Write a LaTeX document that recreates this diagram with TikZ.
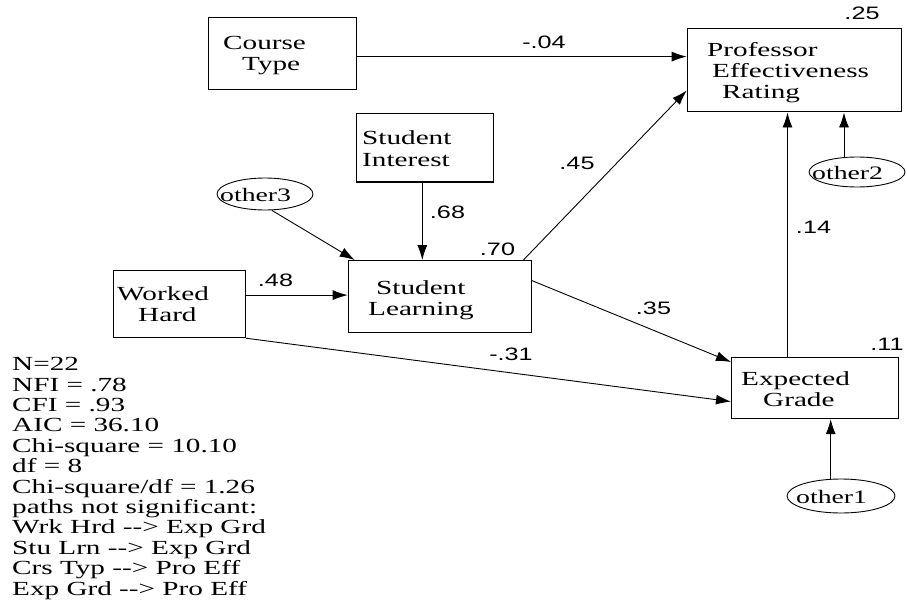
\documentclass[tikz,border=0pt]{standalone}
\usepackage{fontspec}
\setmainfont[FakeStretch=1.46]{Liberation Serif}
\newfontfamily\numfont[FakeStretch=1.4]{Liberation Sans}
\usetikzlibrary{arrows.meta,calc,shapes.geometric}
% stacked lines, baseline on the first line
\newcommand{\stacklines}[1]{\begin{tabular}[t]{@{}l@{}}#1\end{tabular}}

\begin{document}
\begin{tikzpicture}[x=1pt,y=-1pt,
  varbox/.style={draw, line width=1.2pt, rectangle, inner sep=0pt, anchor=north west},
  errnode/.style={draw, line width=0.9pt, ellipse, inner sep=0pt},
  boxtext/.style={anchor=base west, inner sep=0pt, font=\fontsize{20}{21}\selectfont},
  errtext/.style={anchor=base west, inner sep=0pt, font=\fontsize{19}{20}\selectfont},
  coef/.style={anchor=base, inner sep=0pt, font=\numfont\fontsize{18}{20}\selectfont},
  pathline/.style={line width=0.9pt, -{Latex[length=15pt,width=10pt]}},
]
\useasboundingbox (0,0) rectangle (907,615);

% observed variables
\node[varbox, minimum width=148pt, minimum height=72pt] (ct) at (208,17) {};
\node[boxtext] (ct-t) at (223,50) {\stacklines{Course\\\hspace*{19pt}Type}};

\node[varbox, minimum width=214pt, minimum height=83pt] (prof) at (686.7,28.3) {};
\node[boxtext] (prof-t) at (707,57) {\stacklines{Professor\\\hspace*{5pt}Effectiveness\\\hspace*{15pt}Rating}};

\node[varbox, minimum width=137pt, minimum height=68pt] (si) at (355.7,113.3) {};
\node[boxtext] (si-t) at (362,145) {\stacklines{Student\\Interest}};

\node[varbox, minimum width=183pt, minimum height=72pt] (sl) at (347.7,260) {};
\node[boxtext] (sl-t) at (368,294) {\stacklines{\hspace*{8pt}Student\\Learning}};

\node[varbox, minimum width=132pt, minimum height=67pt] (wh) at (112.7,270) {};
\node[boxtext] (wh-t) at (117,300) {\stacklines{Worked\\\hspace*{21pt}Hard}};

\node[varbox, minimum width=167pt, minimum height=61pt] (eg) at (731,357) {};
\node[boxtext] (eg-t) at (741,385) {\stacklines{Expected\\\hspace*{22pt}Grade}};

% error terms
\node[errnode, minimum width=96pt, minimum height=32pt] (o3) at (265,194) {};
\node[errtext] (o3-t) at (220,201.5) {other3};
\node[errnode, minimum width=96pt, minimum height=30pt] (o2) at (857,172) {};
\node[errtext] (o2-t) at (812,179) {other2};
\node[errnode, minimum width=108pt, minimum height=34pt] (o1) at (841,496) {};
\node[errtext] (o1-t) at (796,503) {other1};

% paths
\draw[pathline] ([yshift=-3pt]ct.east) -- ([yshift=-3pt]ct.east -| prof.west);
\draw[pathline] ([xshift=-2.5pt]si.south) -- ([xshift=-2.5pt]si.south |- sl.north);
\draw[pathline] ([xshift=7pt]o3.south) -- ([xshift=7pt]sl.north west);
\draw[pathline] ([yshift=9pt]wh.east) -- ([yshift=9pt]wh.east -| sl.west);
\draw[pathline] ([xshift=-8.5pt]sl.north east) -- ([yshift=22pt]prof.south west);
\draw[pathline] ([yshift=16pt]sl.east) -- ([yshift=-5pt]eg.north west);
\draw[pathline] (wh.south east) -- ([yshift=-13.5pt]eg.west);
\draw[pathline] ([xshift=56.5pt]eg.north west) -- ([xshift=56.5pt]eg.north west |- prof.south);
\draw[pathline] ([xshift=-13pt]o2.north) -- ([xshift=-13pt]o2.north |- prof.south);
\draw[pathline] ([xshift=-10.3pt]o1.north) -- ([xshift=-10.3pt]o1.north |- eg.south);

% coefficients and explained variance
\node[coef] (c-ct) at (544,48.5) {-.04};
\node[coef] (r-prof) at (862,20) {.25};
\node[coef] (c-si) at (447.5,218) {.68};
\node[coef] (r-sl) at (497.5,255) {.70};
\node[coef] (c-wh) at (275.5,286) {.48};
\node[coef] (c-slp) at (577,169) {.45};
\node[coef] (c-eg) at (813.5,233) {.14};
\node[coef] (c-sle) at (653.5,314) {.35};
\node[coef] (c-whe) at (511,360) {-.31};
\node[coef] (r-eg) at (887,350) {.11};

% fit statistics
\node[anchor=base west, inner sep=0pt, font=\fontsize{20}{20.4}\selectfont] (fit) at (12,370.7)
  {\stacklines{N=22\\NFI = .78\\CFI = .93\\AIC = 36.10\\Chi-square = 10.10\\df = 8\\
   Chi-square/df = 1.26\\paths not significant:\\Wrk Hrd -{}-{}> Exp Grd\\
   Stu Lrn -{}-{}> Exp Grd\\Crs Typ -{}-{}> Pro Eff\\Exp Grd -{}-{}> Pro Eff}};
\end{tikzpicture}
\end{document}
